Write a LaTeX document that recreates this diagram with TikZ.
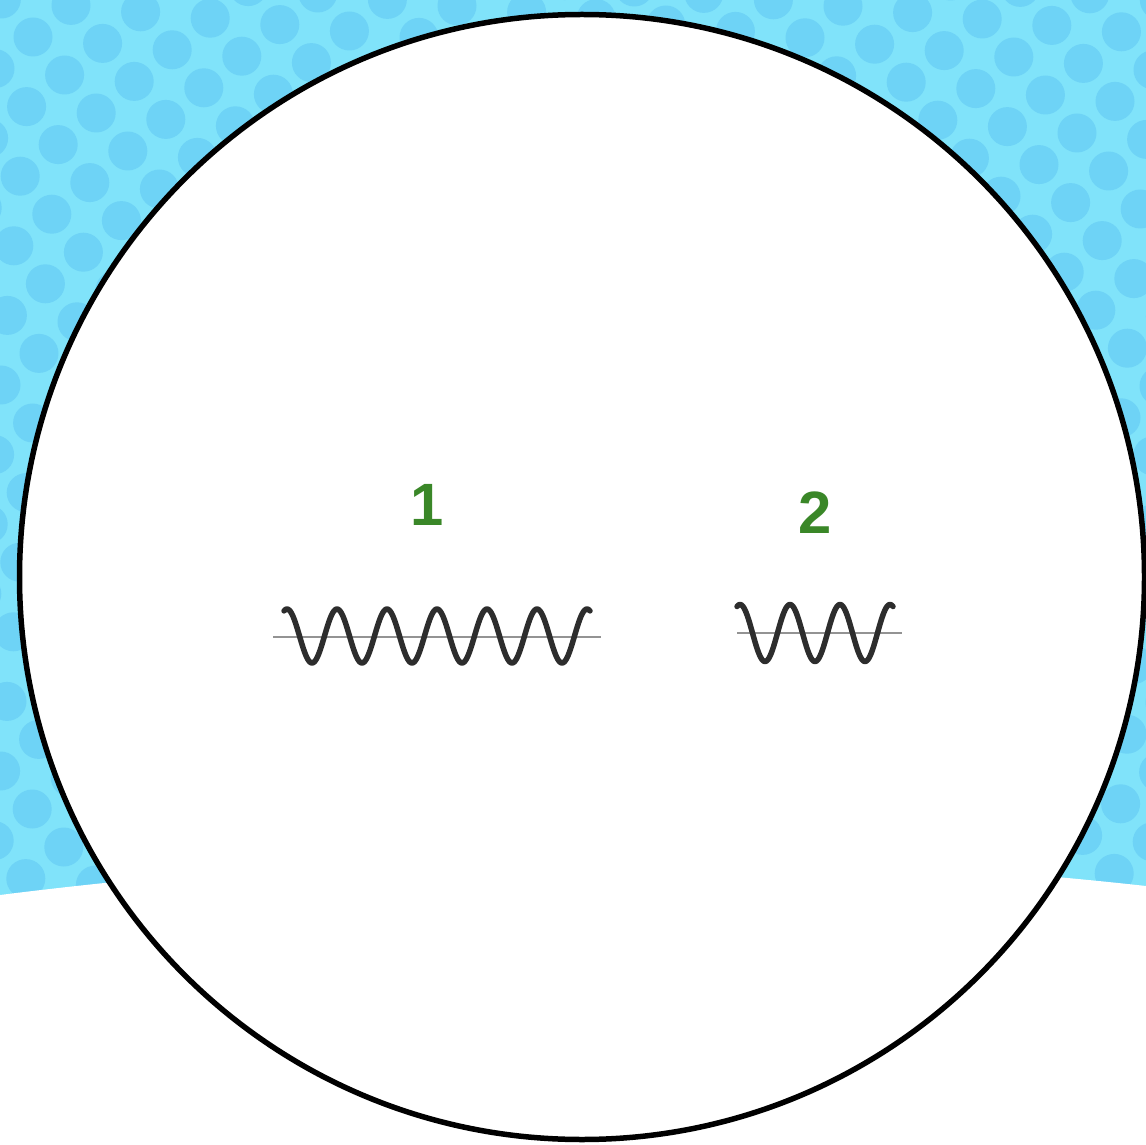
\documentclass[tikz,border=0pt]{standalone}
\usepackage{fontspec}
\setmainfont{Liberation Sans}
\usepackage{tikz}
\definecolor{skyBg}{RGB}{128,227,250}
\definecolor{skyDot}{RGB}{110,211,246}
\definecolor{numGreen}{RGB}{58,135,40}
\definecolor{waveInk}{RGB}{45,45,45}

\begin{document}
\begin{tikzpicture}[x=0.02cm, y=-0.02cm,
  bgdot/.style={fill=skyDot},
  rim/.style={draw=black, line width=0.11cm, fill=white},
  sine/.style={draw=waveInk, line width=0.11cm, line cap=round, line join=round},
  axline/.style={draw=gray!85, line width=0.04cm},
  num/.style={text=numGreen, font=\fontsize{34}{34}\selectfont\bfseries, inner sep=0pt, anchor=base}]
\useasboundingbox (0,0) rectangle (1146,1145);
% dotted backdrop
\begin{scope}
\clip (0,0) rectangle (1146,1145);
\fill[skyBg] (0,0) rectangle (1146,1145);
\foreach \i in {-2,...,29}
  \foreach \j in {-19,...,13}
    \fill[bgdot] ({33+31.6*\i-38*\j},{37+38*\i+31.6*\j}) circle[radius=19.5];
\fill[white] (0,895) .. controls (382,847) and (764,844) .. (1146,886) -- (1146,1145) -- (0,1145) -- cycle;
\end{scope}
% the disc
\draw[rim] (582,577) circle[radius=562.5];
% wave 1
\coordinate (ax1w) at (273,637);
\coordinate (ax1e) at (601,637);
\draw[axline] (ax1w) -- (ax1e);
\draw[sine] plot[domain=284:590, samples=240, smooth] (\x,{636-27*cos(7.2*(\x-287))});
\node[num] (lbl1) at (427,525) {1};
% wave 2
\coordinate (ax2w) at (737,633);
\coordinate (ax2e) at (902,633);
\draw[axline] (ax2w) -- (ax2e);
\draw[sine] plot[domain=737:893, samples=140, smooth] (\x,{633-28.5*cos(7.2*(\x-740))});
\node[num] (lbl2) at (815,533) {2};
\end{tikzpicture}
\end{document}
